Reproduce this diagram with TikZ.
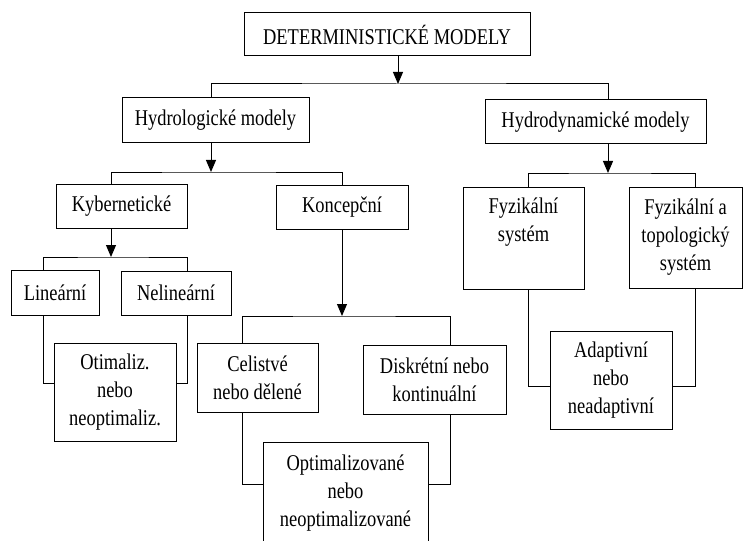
\documentclass[tikz,border=0pt]{standalone}
\usepackage{fontspec}
\setmainfont[FakeStretch=0.82]{Liberation Serif}
\usetikzlibrary{arrows.meta}

\tikzset{every picture/.style={line width=1pt}}
\tikzset{
  box/.style={draw, inner sep=0pt, align=center, font=\fontsize{22.5}{28}\selectfont},
  arr/.style={-{Triangle[length=12pt,width=10pt]}},
}

\begin{document}
\begin{tikzpicture}[x=1pt,y=1pt,yscale=-1,xscale=1]
\useasboundingbox (0,0) rectangle (743,540);
\clip (0,0) rectangle (743,540);

% Text Node
\node [box, minimum width=286, minimum height=43] (det) at (387,34.5) {DETERMINISTICKÉ MODELY};
% Text Node
\node [box, minimum width=187, minimum height=45] (hydrol) at (215.5,120.5) {Hydrologické modely};
% Text Node
\node [box, minimum width=221, minimum height=44] (hydrod) at (595.5,122) {Hydrodynamické modely};
% Text Node
\node [box, minimum width=131, minimum height=44] (kyber) at (121.5,206) {Kybernetické};
% Text Node
\node [box, minimum width=132, minimum height=44] (koncep) at (342,207) {Koncepční};
% Text Node
\node [box, minimum width=88, minimum height=45] (linear) at (55,292.5) {Lineární};
% Text Node
\node [box, minimum width=110, minimum height=44] (nelin) at (176,293) {Nelineární};
% Text Node
\node [box, minimum width=122, minimum height=98] (otim) at (115,392) {Otimaliz.\\nebo\\neoptimaliz.};
% Text Node
\node [box, minimum width=121, minimum height=69] (celist) at (257.5,377.5) {Celistvé\\nebo dělené};
% Text Node
\node [box, minimum width=143, minimum height=69] (diskr) at (434.5,379.5) {Diskrétní nebo\\kontinuální};
% Text Node
\node [box, minimum width=165, minimum height=102] (optim) at (345.5,493) {Optimalizované\\nebo\\neoptimalizované};
% Text Node
\node [box, minimum width=121, minimum height=102] (fyz) at (523.5,238) {Fyzikální\\systém\\\strut};
% Text Node
\node [box, minimum width=113, minimum height=101] (fyztop) at (685.5,237.5) {Fyzikální a\\topologický\\systém};
% Text Node
\node [box, minimum width=122, minimum height=98] (adapt) at (611,380) {Adaptivní\\nebo\\neadaptivní};

% junctions and columns
\coordinate (j0) at (398,84);
\coordinate (j1) at (211,172);
\coordinate (j2) at (608,173);
\coordinate (j3) at (111,257);
\coordinate (j4) at (342,316);
\coordinate (c-hl) at (211,0);
\coordinate (c-hd) at (608,0);
\coordinate (c-ky) at (111,0);
\coordinate (c-ko) at (342,0);
\coordinate (c-fy) at (528,0);
\coordinate (c-ft) at (695,0);
\coordinate (c-li) at (43,0);
\coordinate (c-ne) at (187,0);
\coordinate (c-ce) at (242,0);
\coordinate (c-di) at (450,0);
\coordinate (r-ot) at (0,383);
\coordinate (r-op) at (0,484);
\coordinate (r-ad) at (0,386);

%Straight Lines
\draw [arr] (det.south -| j0) -- (j0);
\draw (hydrol.north -| c-hl) |- (j0) -| (hydrod.north -| c-hd);
%Straight Lines
\draw [arr] (hydrol.south -| j1) -- (j1);
\draw (kyber.north -| c-ky) |- (j1) -| (koncep.north -| c-ko);
%Straight Lines
\draw [arr] (hydrod.south -| j2) -- (j2);
\draw (fyz.north -| c-fy) |- (j2) -| (fyztop.north -| c-ft);
%Straight Lines
\draw [arr] (kyber.south -| j3) -- (j3);
\draw (linear.north -| c-li) |- (j3) -| (nelin.north -| c-ne);
%Straight Lines
\draw [arr] (koncep.south -| j4) -- (j4);
\draw (celist.north -| c-ce) |- (j4) -| (diskr.north -| c-di);
%Straight Lines
\draw (linear.south -| c-li) |- (otim.west |- r-ot);
\draw (nelin.south -| c-ne) |- (otim.east |- r-ot);
%Straight Lines
\draw (celist.south -| c-ce) |- (optim.west |- r-op);
\draw (diskr.south -| c-di) |- (optim.east |- r-op);
%Straight Lines
\draw (fyz.south -| c-fy) |- (adapt.west |- r-ad);
\draw (fyztop.south -| c-ft) |- (adapt.east |- r-ad);
\end{tikzpicture}
\end{document}
